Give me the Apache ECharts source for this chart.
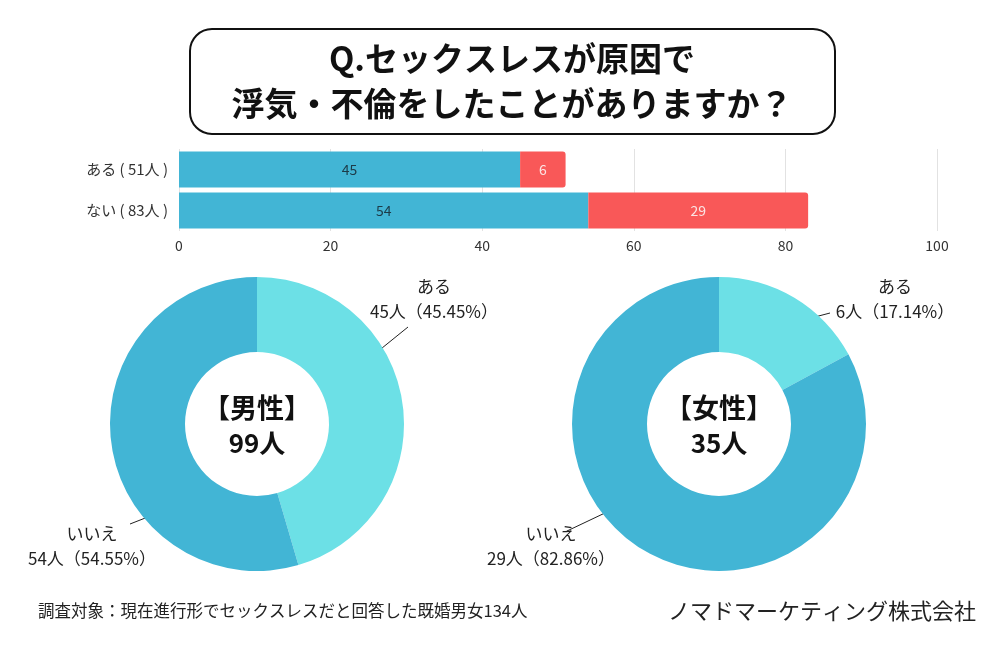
<!DOCTYPE html>
<html><head><meta charset="utf-8">
<script src="https://cdn.jsdelivr.net/npm/echarts@6/dist/echarts.min.js"></script>
<style>html,body{margin:0;padding:0;background:#fff}#c{width:1000px;height:650px}</style>
</head><body><div id="c"></div>
<script>
const FONT = '"Noto Sans CJK JP","Noto Sans",sans-serif';
const barCategories = ['ある ( 51人 )', 'ない ( 83人 )'];
const barMale = [45, 54];
const barFemale = [6, 29];
const xTicks = [0, 20, 40, 60, 80, 100];
const pieNames = ['ある', 'いいえ'];
const maleValues = [45, 54];
const femaleValues = [6, 29];
const malePct = ['45.45%', '54.55%'];
const femalePct = ['17.14%', '82.86%'];
const maleTotal = 99, femaleTotal = 35;

const BLUE = '#42b5d5', RED = '#f95858', CYAN = '#6ce0e6';

const chart = echarts.init(document.getElementById('c'));

function pieSeries(center, values, pct, layouts) {
  return {
    type: 'pie', center: center, radius: [72, 147], startAngle: 90, clockwise: true,
    silent: true,
    data: values.map((v, i) => ({ name: pieNames[i], value: v,
      itemStyle: { color: i === 0 ? CYAN : BLUE } })),
    label: {
      show: true, position: 'outside', overflow: 'none',
      formatter: p => p.name + '\n' + p.value + '人（' + pct[p.dataIndex] + '）',
      fontFamily: FONT, fontSize: 17, color: '#222', lineHeight: 25, align: 'center'
    },
    labelLine: { show: true, showAbove: true, lineStyle: { color: '#222', width: 1 } },
    labelLayout: function (params) {
      const l = layouts[params.dataIndex];
      return { x: l.x, y: l.y, align: 'center', verticalAlign: 'middle',
        labelLinePoints: [l.p0, l.p1, l.p1] };
    }
  };
}

chart.setOption({
  backgroundColor: '#fff',
  animation: false,
  grid: { left: 179, right: 63, top: 149, height: 82, containLabel: false },
  xAxis: {
    type: 'value', min: 0, max: 100, interval: 20,
    axisLine: { show: false }, axisTick: { show: false },
    splitLine: { lineStyle: { color: '#e2e2e2' } },
    axisLabel: { fontFamily: FONT, fontSize: 14, color: '#333', margin: 8,
      formatter: v => xTicks.includes(v) ? String(v) : '' }
  },
  yAxis: {
    type: 'category', data: barCategories, inverse: true,
    axisLine: { show: false }, axisTick: { show: false },
    axisLabel: { fontFamily: FONT, fontSize: 15, color: '#333', margin: 11 }
  },
  series: [
    { type: 'bar', stack: 't', data: barMale, barWidth: 36, itemStyle: { color: BLUE },
      label: { show: true, position: 'inside', color: '#1d3b48', fontSize: 14, fontFamily: FONT } },
    { type: 'bar', stack: 't', data: barFemale, barWidth: 36, itemStyle: { color: RED, borderRadius: [0, 3, 3, 0] },
      label: { show: true, position: 'inside', color: '#fbe3e3', fontSize: 14, fontFamily: FONT } },
    pieSeries([257, 424], maleValues, malePct, [
      { x: 434, y: 299, p0: [366, 361], p1: [408, 327] },
      { x: 92, y: 546, p0: [158, 513], p1: [130, 524] }
    ]),
    pieSeries([719, 424], femaleValues, femalePct, [
      { x: 895, y: 299, p0: [792, 323], p1: [830, 313] },
      { x: 551, y: 546, p0: [607, 512], p1: [567, 531] }
    ])
  ],
  graphic: [
    { type: 'rect', shape: { x: 190, y: 29, width: 645, height: 105, r: 22 },
      style: { fill: '#fff', stroke: '#111', lineWidth: 2 } },
    { type: 'text', x: 512, y: 58, style: { text: 'Q.セックスレスが原因で', align: 'center', verticalAlign: 'middle',
      font: 'bold 33px ' + FONT, fill: '#111' } },
    { type: 'text', x: 512, y: 103, style: { text: '浮気・不倫をしたことがありますか？', align: 'center', verticalAlign: 'middle',
      font: 'bold 33px ' + FONT, fill: '#111' } },
    { type: 'text', x: 257, y: 408, style: { text: '【男性】', align: 'center', verticalAlign: 'middle',
      font: 'bold 27px ' + FONT, fill: '#111' } },
    { type: 'text', x: 257, y: 443, style: { text: maleTotal + '人', align: 'center', verticalAlign: 'middle',
      font: 'bold 26px ' + FONT, fill: '#111' } },
    { type: 'text', x: 719, y: 408, style: { text: '【女性】', align: 'center', verticalAlign: 'middle',
      font: 'bold 27px ' + FONT, fill: '#111' } },
    { type: 'text', x: 719, y: 443, style: { text: femaleTotal + '人', align: 'center', verticalAlign: 'middle',
      font: 'bold 26px ' + FONT, fill: '#111' } },
    { type: 'text', x: 38, y: 611, style: { text: '調査対象：現在進行形でセックスレスだと回答した既婚男女134人', align: 'left', verticalAlign: 'middle',
      font: '16.5px ' + FONT, fill: '#222' } },
    { type: 'text', x: 976, y: 611, style: { text: 'ノマドマーケティング株式会社', align: 'right', verticalAlign: 'middle',
      font: '22px ' + FONT, fill: '#222' } }
  ]
});
</script></body></html>
